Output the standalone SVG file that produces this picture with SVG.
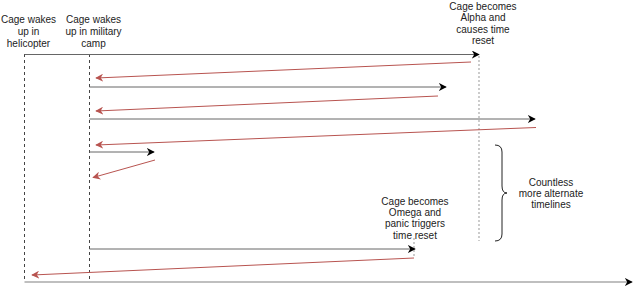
<svg xmlns="http://www.w3.org/2000/svg" width="640" height="289" viewBox="0 0 640 289">
  <defs>
    <marker id="blk" viewBox="0 0 10 10" refX="9" refY="5" markerWidth="8" markerHeight="8" markerUnits="userSpaceOnUse" orient="auto">
      <path d="M0,0 L10,5 L0,10 L3,5 Z" fill="#000"/>
    </marker>
    <marker id="red" viewBox="0 0 10 10" refX="9" refY="5" markerWidth="8" markerHeight="8" markerUnits="userSpaceOnUse" orient="auto">
      <path d="M0,0 L10,5 L0,10 L3,5 Z" fill="#b85450"/>
    </marker>
  </defs>
  <style>
    text { font-family: "Liberation Sans", Arial, sans-serif; font-size: 10px; fill: #222; text-anchor: middle; }
    .fwd { stroke: #666; stroke-width: 1; fill: none; marker-end: url(#blk); }
    .back { stroke: #b85450; stroke-width: 1; fill: none; marker-end: url(#red); }
    .dash { stroke: #444; stroke-width: 1; stroke-dasharray: 3 3; fill: none; }
    .dot { stroke: #aaa; stroke-width: 1.2; stroke-dasharray: 2 2; fill: none; }
  </style>
  <rect width="640" height="289" fill="#fff"/>

  <g id="connectors">
    <!-- timeline spines -->
    <line class="dash" x1="24.5" y1="54" x2="24.5" y2="282"/>
    <line class="dash" x1="89.5" y1="54" x2="89.5" y2="282"/>
    <line class="dot" x1="479" y1="56" x2="479" y2="241"/>
    <line class="dot" x1="414" y1="238" x2="414" y2="258"/>
    <!-- forward runs -->
    <line class="fwd" x1="24.5" y1="54.5" x2="479" y2="54.5"/>
    <line class="fwd" x1="89.5" y1="87" x2="446" y2="87"/>
    <line class="fwd" x1="89.5" y1="119" x2="535" y2="119"/>
    <line class="fwd" x1="89.5" y1="152" x2="154" y2="152"/>
    <line class="fwd" x1="89.5" y1="249" x2="415" y2="249"/>
    <line x1="24.5" y1="282" x2="632" y2="282" stroke="#aaa" stroke-width="1.5" marker-end="url(#blk)"/>
    <!-- resets -->
    <line class="back" x1="471" y1="62" x2="96" y2="78"/>
    <line class="back" x1="438" y1="96" x2="96" y2="111"/>
    <line class="back" x1="536" y1="127.5" x2="96" y2="145"/>
    <line class="back" x1="155" y1="160" x2="93" y2="177.5"/>
    <line class="back" x1="414" y1="258" x2="32" y2="275"/>
  </g>

  <g id="helicopter">
    <text x="28.5" y="23">Cage wakes</text>
    <text x="28.5" y="35">up in</text>
    <text x="28.5" y="46.5">helicopter</text>
  </g>
  <g id="camp">
    <text x="93.5" y="23">Cage wakes</text>
    <text x="93.5" y="35">up in military</text>
    <text x="93.5" y="46.5">camp</text>
  </g>
  <g id="alpha">
    <text x="483" y="9.5">Cage becomes</text>
    <text x="483" y="21">Alpha and</text>
    <text x="483" y="32.5">causes time</text>
    <text x="483" y="44">reset</text>
  </g>
  <g id="omega">
    <text x="415" y="204.5">Cage becomes</text>
    <text x="415" y="216">Omega and</text>
    <text x="415" y="227">panic triggers</text>
    <text x="415" y="238.5">time reset</text>
  </g>
  <g id="countless">
    <path d="M495,145 Q502,145 502,152 L502,186 Q502,193 507,193 Q502,193 502,200 L502,234 Q502,241 495,241" fill="none" stroke="#222" stroke-width="1"/>
    <text x="551" y="185.5">Countless</text>
    <text x="551" y="197">more alternate</text>
    <text x="551" y="208">timelines</text>
  </g>
</svg>
